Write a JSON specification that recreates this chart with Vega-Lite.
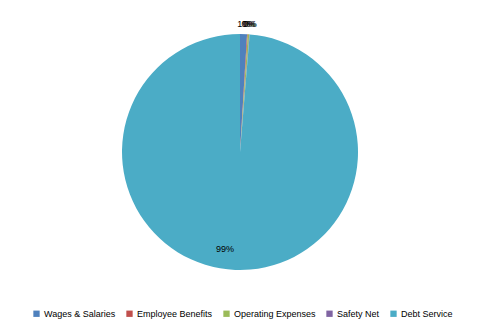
{
  "$schema": "https://vega.github.io/schema/vega-lite/v6.json",
  "width": 480,
  "height": 304,
  "autosize": "none",
  "padding": {"top": 0, "left": 0, "right": 0, "bottom": 29},
  "background": "white",
  "data": {
    "values": [
      {"idx": 1, "category": "Wages & Salaries", "value": 0.95, "label": "1%"},
      {"idx": 2, "category": "Employee Benefits", "value": 0.1, "label": "0%"},
      {"idx": 3, "category": "Operating Expenses", "value": 0.2, "label": "0%"},
      {"idx": 4, "category": "Safety Net", "value": 0.05, "label": "0%"},
      {"idx": 5, "category": "Debt Service", "value": 98.7, "label": "99%"}
    ]
  },
  "encoding": {
    "theta": {"field": "value", "type": "quantitative", "stack": true},
    "order": {"field": "idx", "type": "quantitative"},
    "color": {
      "field": "category",
      "type": "nominal",
      "scale": {
        "domain": ["Wages & Salaries", "Employee Benefits", "Operating Expenses", "Safety Net", "Debt Service"],
        "range": ["#4F81BD", "#C0504D", "#9BBB59", "#8064A2", "#4BACC6"]
      },
      "legend": {
        "orient": "none",
        "legendX": 32,
        "legendY": 309,
        "direction": "horizontal",
        "title": null,
        "symbolType": "square",
        "symbolSize": 40,
        "symbolStrokeWidth": 0,
        "labelFont": "Liberation Sans",
        "labelFontSize": 9,
        "labelColor": "#000000",
        "columnPadding": 9,
        "labelOffset": 3,
        "padding": 0
      }
    }
  },
  "layer": [
    {"mark": {"type": "arc", "radius": 118}},
    {
      "mark": {"type": "text", "font": "Liberation Sans", "fontSize": 9, "radius": 128},
      "encoding": {
        "text": {"condition": {"test": "datum.category != 'Debt Service'", "field": "label"}, "value": ""},
        "color": {"value": "#000000"}
      }
    },
    {
      "mark": {"type": "text", "font": "Liberation Sans", "fontSize": 9, "radius": 97, "dx": -11},
      "encoding": {
        "text": {"condition": {"test": "datum.category == 'Debt Service'", "field": "label"}, "value": ""},
        "color": {"value": "#000000"}
      }
    }
  ],
  "view": {"stroke": null}
}
